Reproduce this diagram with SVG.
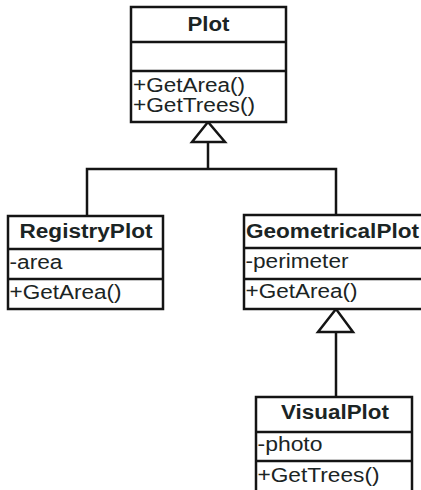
<svg xmlns="http://www.w3.org/2000/svg" width="421" height="490" viewBox="0 0 421 490">
<style>
.box{fill:#fff;stroke:#141414;stroke-width:2.5}
.sep{stroke:#141414;stroke-width:2.5}
.t{font-family:"Liberation Sans",Arial,sans-serif;font-size:20px;fill:#1b2424}
.b{font-weight:bold;text-anchor:middle}
.c{fill:none;stroke:#141414;stroke-width:2.5}
.tri{fill:#fff;stroke:#141414;stroke-width:2.5}
</style>
<rect width="421" height="490" fill="#fff"/>
<g id="connectors">
<polyline class="c" points="208,142 208,169"/>
<polyline class="c" points="87,216 87,169 336,169 336,215"/>
<polygon class="tri" points="208,122 192,142 225,142"/>
<line class="c" x1="336" y1="332" x2="336" y2="397"/>
<polygon class="tri" points="336,309 318,332 353,332"/>
</g>
<g id="Plot">
<rect class="box" x="131" y="7" width="155" height="115"/>
<line class="sep" x1="131" y1="42" x2="286" y2="42"/>
<line class="sep" x1="131" y1="71" x2="286" y2="71"/>
<text class="t b" x="208.5" y="31" textLength="42" lengthAdjust="spacingAndGlyphs">Plot</text>
<text class="t" x="133" y="92" textLength="112" lengthAdjust="spacingAndGlyphs">+GetArea()</text>
<text class="t" x="133" y="112" textLength="122" lengthAdjust="spacingAndGlyphs">+GetTrees()</text>
</g>
<g id="RegistryPlot">
<rect class="box" x="8" y="216" width="155" height="93"/>
<line class="sep" x1="8" y1="249" x2="163" y2="249"/>
<line class="sep" x1="8" y1="279" x2="163" y2="279"/>
<text class="t b" x="86" y="238" textLength="133" lengthAdjust="spacingAndGlyphs">RegistryPlot</text>
<text class="t" x="9.5" y="269" textLength="53" lengthAdjust="spacingAndGlyphs">-area</text>
<text class="t" x="9.5" y="299" textLength="112" lengthAdjust="spacingAndGlyphs">+GetArea()</text>
</g>
<g id="GeometricalPlot">
<rect class="box" x="244" y="215" width="190" height="94"/>
<line class="sep" x1="244" y1="248" x2="434" y2="248"/>
<line class="sep" x1="244" y1="279" x2="434" y2="279"/>
<text class="t" x="246" y="238" font-weight="bold" textLength="173" lengthAdjust="spacingAndGlyphs">GeometricalPlot</text>
<text class="t" x="245.5" y="268" textLength="103" lengthAdjust="spacingAndGlyphs">-perimeter</text>
<text class="t" x="245.5" y="298" textLength="112" lengthAdjust="spacingAndGlyphs">+GetArea()</text>
</g>
<g id="VisualPlot">
<rect class="box" x="256" y="397" width="156" height="110"/>
<line class="sep" x1="256" y1="432" x2="412" y2="432"/>
<line class="sep" x1="256" y1="461" x2="412" y2="461"/>
<text class="t b" x="335" y="419" textLength="108" lengthAdjust="spacingAndGlyphs">VisualPlot</text>
<text class="t" x="257.5" y="451" textLength="65" lengthAdjust="spacingAndGlyphs">-photo</text>
<text class="t" x="257.5" y="482" textLength="122" lengthAdjust="spacingAndGlyphs">+GetTrees()</text>
</g>
</svg>
